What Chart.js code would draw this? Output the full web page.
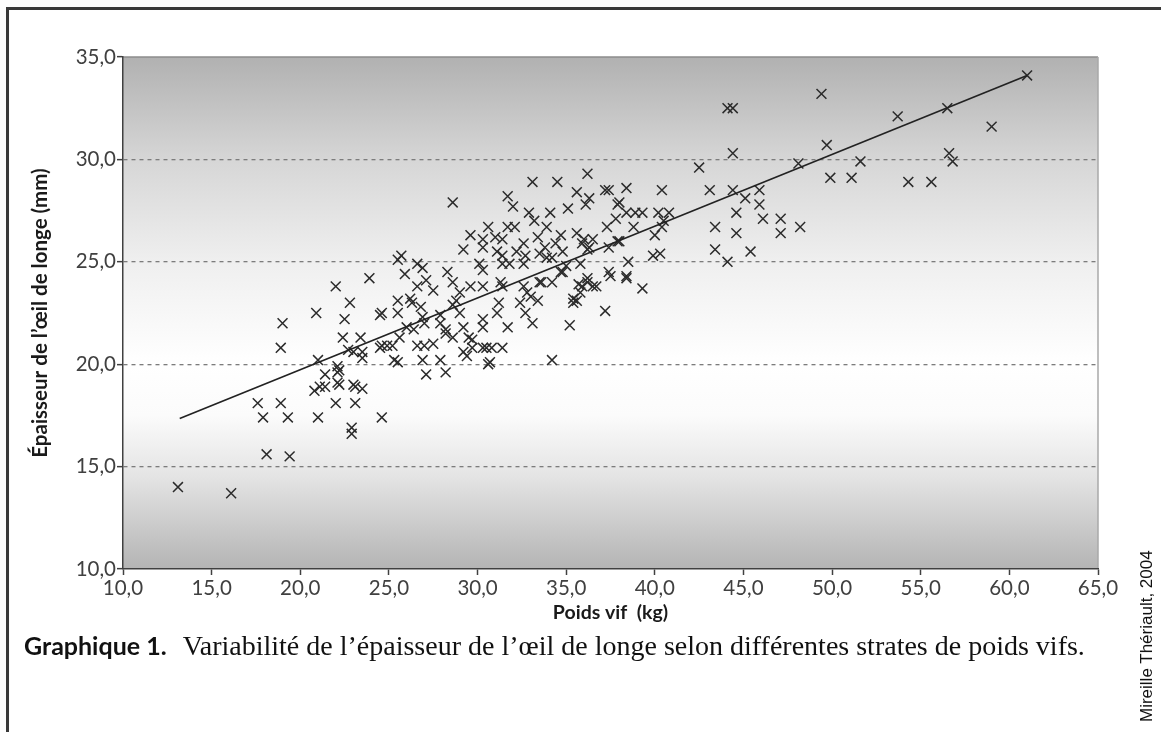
<!DOCTYPE html>
<html lang="fr">
<head>
<meta charset="utf-8">
<title>Graphique 1</title>
<script src="https://cdn.jsdelivr.net/npm/chart.js@4.4.1/dist/chart.umd.min.js"></script>
<style>
  html, body { margin: 0; padding: 0; background: #fff; }
  body { width: 1161px; height: 732px; position: relative; overflow: hidden; }
  .cadre {
    position: absolute; left: 6px; top: 7px; right: 0; bottom: 0;
    border-top: 3px solid #3a3a3a; border-left: 3px solid #3a3a3a;
  }
  .graph { position: absolute; left: 0; top: 0; width: 1161px; height: 640px; }
  .legende {
    position: absolute; left: 24px; top: 628px; line-height: 34px;
    color: #111; white-space: nowrap;
  }
  .legende .num { font-family: Lato, sans-serif; font-weight: bold; font-size: 25px; margin-right: 16px; }
  .legende .txt { font-family: 'Liberation Serif', serif; font-size: 28px; }
  .credit {
    position: absolute; left: 1138px; top: 722px; line-height: 18px;
    font-family: 'Liberation Sans Narrow', 'Liberation Sans', sans-serif; font-size: 17px; color: #111;
    white-space: nowrap; transform-origin: left top; transform: rotate(-90deg);
  }
</style>
</head>
<body>
<div class="cadre"></div>
<div class="graph"><canvas id="chartEpaisseur"></canvas></div>
<div class="legende"><span class="num">Graphique 1.</span><span class="txt">Variabilité de l’épaisseur de l’œil de longe selon différentes strates de poids vifs.</span></div>
<div class="credit">Mireille Thériault, 2004</div>

<script>
// poids vif (kg) et épaisseur de l'oeil de longe (mm)
var poidsVif = [
  13.1, 16.1, 17.6, 17.9, 18.1, 18.9, 19.3, 19.4, 19.0, 18.9, 20.9, 22.0, 23.9, 22.8, 22.5, 24.6,
  21.0, 21.1, 20.8, 21.4, 21.4, 22.2, 22.2, 22.0, 21.0, 23.1, 23.5, 23.1, 22.9, 22.9, 24.6, 22.4,
  23.4, 23.0, 23.5, 22.7, 24.6, 25.5, 25.5, 25.5, 25.3, 25.2, 22.1, 22.1, 23.0, 23.5, 24.5, 24.9,
  25.6, 25.5, 22.1,
  28.6, 29.6, 29.2, 25.7, 26.6, 26.9, 25.9, 24.5, 26.2, 26.6, 27.1, 27.5, 28.3, 28.6, 29.0, 28.6,
  29.0, 27.0, 27.9, 28.2, 29.2, 29.5, 29.7, 29.2, 26.6, 27.0, 27.5, 26.9, 27.9, 27.1, 28.2, 26.3,
  26.8, 26.9, 26.0, 26.4, 28.2, 28.6, 28.8, 27.9, 29.4,
  36.2, 33.1, 34.5, 35.6, 37.2, 37.4, 38.4, 36.3, 36.1, 31.7, 32.0, 32.9, 34.1, 35.1, 37.9, 37.8,
  37.3, 33.2, 30.6, 31.7, 32.1, 33.9, 34.7, 35.6, 36.0, 31.0, 30.3, 30.3, 31.4, 32.6, 33.4, 33.8,
  34.4, 31.1, 31.4, 32.2, 32.7, 33.5, 34.2, 34.8, 36.2, 36.5, 37.4, 37.9, 30.1, 30.3, 31.4, 31.8,
  32.6, 33.9, 35.0, 34.8, 37.4, 37.5, 38.4, 29.6, 30.3, 31.3, 31.4, 32.6, 33.5, 34.2, 34.7, 35.9,
  36.2, 36.7, 35.8, 35.6, 35.4, 32.8, 33.0, 33.4, 32.7, 31.2, 31.1, 37.2, 30.3, 30.3, 31.7, 33.1,
  35.2, 30.3, 30.8, 31.4, 30.7, 34.2, 29.7,
  32.4, 33.6, 35.8, 36.3, 35.9, 30.5, 30.6, 36.2, 36.5, 35.7, 35.4,
  44.1, 44.4, 44.4, 42.5, 40.4, 43.1, 44.4, 45.1, 45.9, 45.9, 44.6, 46.1, 47.1, 47.1, 48.2, 43.4,
  44.6, 43.4, 45.4, 44.1, 38.4, 38.9, 39.3, 40.2, 40.8, 38.0, 38.8, 40.0, 40.4, 40.5, 38.0, 39.9,
  40.3, 38.5, 38.4, 39.3,
  61.0, 49.4, 53.7, 56.5, 59.0, 49.7, 51.6, 56.6, 56.8, 49.9, 51.1, 54.3, 55.6, 48.1
];
var epaisseur = [
  14.0, 13.7, 18.1, 17.4, 15.6, 18.1, 17.4, 15.5, 22.0, 20.8, 22.5, 23.8, 24.2, 23.0, 22.2, 22.5,
  20.2, 18.9, 18.7, 19.5, 18.9, 19.7, 19.0, 18.1, 17.4, 18.9, 18.8, 18.1, 16.9, 16.6, 17.4, 21.3,
  21.3, 20.6, 20.6, 20.7, 20.9, 23.1, 22.5, 25.1, 20.2, 20.9, 19.6, 19.1, 19.0, 20.3, 20.8, 20.9,
  21.3, 20.1, 19.9,
  27.9, 26.3, 25.6, 25.3, 24.9, 24.7, 24.4, 22.4, 23.2, 23.8, 24.1, 23.6, 24.5, 24.0, 23.5, 22.9,
  22.5, 22.0, 22.0, 21.5, 21.8, 21.3, 20.8, 20.6, 20.9, 20.9, 21.0, 20.2, 20.2, 19.5, 19.6, 23.0,
  22.8, 22.3, 21.8, 21.7, 21.7, 21.3, 23.1, 22.4, 20.4,
  29.3, 28.9, 28.9, 28.4, 28.5, 28.5, 28.6, 28.1, 27.8, 28.2, 27.7, 27.4, 27.4, 27.6, 27.8, 27.1,
  26.7, 27.0, 26.7, 26.7, 26.7, 26.7, 26.3, 26.4, 26.1, 26.2, 26.1, 25.7, 26.1, 25.9, 26.2, 25.7,
  25.9, 25.5, 25.3, 25.5, 25.3, 25.4, 25.2, 25.5, 25.6, 26.1, 25.7, 26.0, 24.9, 24.6, 24.9, 24.9,
  24.9, 25.2, 24.8, 24.5, 24.5, 24.3, 24.3, 23.8, 23.8, 24.0, 23.8, 23.8, 24.0, 24.0, 24.5, 23.8,
  24.0, 23.8, 23.5, 23.1, 23.0, 23.5, 23.3, 23.1, 22.5, 23.0, 22.5, 22.6, 22.2, 21.8, 21.8, 22.0,
  21.9, 20.8, 20.8, 20.8, 20.1, 20.2, 21.2,
  23.0, 24.0, 24.9, 25.7, 25.9, 20.8, 20.0, 24.2, 23.8, 23.9, 23.2,
  32.5, 32.5, 30.3, 29.6, 28.5, 28.5, 28.5, 28.1, 28.5, 27.8, 27.4, 27.1, 27.1, 26.4, 26.7, 26.7,
  26.4, 25.6, 25.5, 25.0, 27.4, 27.4, 27.4, 27.4, 27.4, 27.9, 26.7, 26.3, 26.7, 27.0, 26.0, 25.3,
  25.4, 25.0, 24.2, 23.7,
  34.1, 33.2, 32.1, 32.5, 31.6, 30.7, 29.9, 30.3, 29.9, 29.1, 29.1, 28.9, 28.9, 29.8
];

// droite de tendance
var tendanceX = [13.2, 61.0];
var tendanceY = [17.35, 34.1];

// graduations
var xTicks = [10, 15, 20, 25, 30, 35, 40, 45, 50, 55, 60, 65];
var yTicks = [10, 15, 20, 25, 30, 35];

var points = [];
for (let i = 0; i < poidsVif.length; i++) points.push({ x: poidsVif[i], y: epaisseur[i] });

var tendance = [];
for (let i = 0; i < tendanceX.length; i++) tendance.push({ x: tendanceX[i], y: tendanceY[i] });

var virgule = (v) => v.toFixed(1).replace('.', ',');

/* fond en degrade gris + cadre haut/droite */
var fondGraphique = {
  id: 'fondGraphique',
  beforeDraw: (chart) => {
    let ctx = chart.ctx;
    let a = chart.chartArea;
    let g = ctx.createLinearGradient(0, a.top, 0, a.bottom);
    g.addColorStop(0, '#b1b1b1');
    g.addColorStop(0.2, '#d6d6d6');
    g.addColorStop(0.4, '#efefef');
    g.addColorStop(0.6, '#ffffff');
    g.addColorStop(0.7, '#fbfbfb');
    g.addColorStop(0.82, '#e4e4e4');
    g.addColorStop(1, '#b4b4b4');
    ctx.save();
    ctx.fillStyle = g;
    ctx.fillRect(a.left, a.top, a.right - a.left, a.bottom - a.top);
    ctx.strokeStyle = '#8c8c8c';
    ctx.lineWidth = 1.5;
    ctx.beginPath();
    ctx.moveTo(a.left, a.top);
    ctx.lineTo(a.right, a.top);
    ctx.stroke();
    ctx.strokeStyle = '#a8a8a8';
    ctx.beginPath();
    ctx.moveTo(a.right, a.top);
    ctx.lineTo(a.right, a.bottom);
    ctx.stroke();
    ctx.restore();
  },
};

var policeTicks = { family: 'Lato, sans-serif', size: 20.5 };
var policeTitre = { family: 'Lato, sans-serif', size: 19.5, weight: 'bold' };

var ctx = document.getElementById('chartEpaisseur');
var chartEpaisseur = new Chart(ctx, {
  type: 'scatter',
  plugins: [fondGraphique],
  data: {
    datasets: [
      {
        label: 'Tendance',
        data: tendance,
        showLine: true,
        borderColor: '#222',
        borderWidth: 1.7,
        pointRadius: 0,
        fill: false,
      },
      {
        label: 'Épaisseur',
        data: points,
        pointStyle: 'crossRot',
        pointRadius: 7,
        borderColor: '#2b2b2b',
        backgroundColor: 'rgba(0,0,0,0)',
        borderWidth: 1.5,
      },
    ],
  },
  options: {
    responsive: true,
    maintainAspectRatio: false,
    animation: false,
    events: [],
    layout: { padding: { top: 57, right: 63, bottom: 0, left: 0 } },
    plugins: {
      legend: { display: false },
      tooltip: { enabled: false },
    },
    scales: {
      x: {
        type: 'linear',
        min: 10,
        max: 65,
        afterFit: (s) => { s.height = 71; },
        afterBuildTicks: (s) => { s.ticks = xTicks.map((v) => ({ value: v })); },
        ticks: { callback: virgule, color: '#404040', font: policeTicks, padding: 1, maxRotation: 0 },
        grid: { drawOnChartArea: false, drawTicks: true, tickLength: 6, tickColor: '#404040', tickWidth: 1.5 },
        border: { display: true, color: '#404040', width: 1.5 },
        title: {
          display: true,
          text: 'Poids vif  (kg)',
          color: '#1a1a1a',
          font: policeTitre,
          padding: { top: 0, bottom: 16 },
        },
      },
      y: {
        type: 'linear',
        min: 10,
        max: 35,
        afterFit: (s) => { s.width = 123; },
        afterBuildTicks: (s) => { s.ticks = yTicks.map((v) => ({ value: v })); },
        ticks: { callback: virgule, color: '#404040', font: policeTicks, padding: 1 },
        grid: {
          drawOnChartArea: true,
          tickLength: 6,
          tickColor: '#404040',
          tickWidth: 1.5,
          lineWidth: 1.3,
          color: (c) =>
            c.tick && (c.tick.value === 10 || c.tick.value === 35) ? 'rgba(0,0,0,0)' : '#7c7c7c',
        },
        border: { display: true, color: '#404040', width: 1.5, dash: [4, 4] },
        title: {
          display: true,
          text: 'Épaisseur de l’œil de longe (mm)',
          color: '#1a1a1a',
          font: { family: 'Lato, sans-serif', size: 20.5, weight: 'bold' },
          padding: { top: 28, bottom: 0 },
        },
      },
    },
  },
});
</script>
</body>
</html>
